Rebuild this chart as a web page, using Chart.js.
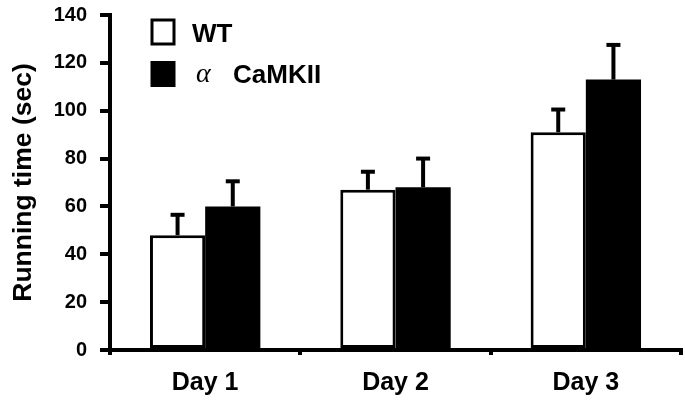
<!DOCTYPE html>
<html>
<head>
<meta charset="utf-8">
<script src="https://cdn.jsdelivr.net/npm/chart.js@4.4.1/dist/chart.umd.min.js"></script>
<style>
  html, body { margin: 0; padding: 0; background: #fff; }
  #wrap { position: relative; width: 685px; height: 402px; }
</style>
</head>
<body>
<div id="wrap"><canvas id="c" width="685" height="402"></canvas></div>
<script>
const categories = ['Day 1', 'Day 2', 'Day 3'];
const wtMeans = [48, 67, 91];
const wtErrors = [8.5, 7.5, 9.5];
const camMeans = [60, 68, 113];
const camErrors = [10.5, 12, 14.5];
const yTicks = [0, 20, 40, 60, 80, 100, 120, 140];
const seriesNames = ['WT', 'CaMKII'];

Chart.defaults.font.family = "'Liberation Sans', Arial, sans-serif";
Chart.defaults.font.weight = 'bold';
Chart.defaults.color = '#000';

const errorBars = {
  id: 'errorBars',
  afterDatasetsDraw(chart) {
    const ctx = chart.ctx;
    const ys = chart.scales.y;
    chart.data.datasets.forEach((ds, i) => {
      const meta = chart.getDatasetMeta(i);
      meta.data.forEach((bar, j) => {
        const top = ys.getPixelForValue(ds.data[j] + ds.errors[j]);
        ctx.save();
        ctx.strokeStyle = '#000';
        ctx.lineWidth = 4;
        ctx.beginPath();
        ctx.moveTo(bar.x, bar.y);
        ctx.lineTo(bar.x, top);
        ctx.stroke();
        ctx.beginPath();
        ctx.moveTo(bar.x - 7, top);
        ctx.lineTo(bar.x + 7, top);
        ctx.stroke();
        ctx.restore();
      });
    });
  }
};

const customLegend = {
  id: 'customLegend',
  afterDraw(chart) {
    const ctx = chart.ctx;
    ctx.save();
    ctx.fillStyle = '#fff';
    ctx.fillRect(152, 20, 22, 24);
    ctx.strokeStyle = '#000';
    ctx.lineWidth = 3;
    ctx.strokeRect(152, 20, 22, 24);
    ctx.fillStyle = '#000';
    ctx.fillRect(150.5, 61, 25, 26);
    ctx.textBaseline = 'middle';
    ctx.textAlign = 'left';
    ctx.font = "bold 26px 'Liberation Sans', Arial, sans-serif";
    ctx.fillText(seriesNames[0], 192, 35);
    ctx.font = "italic 28px 'Liberation Serif', 'Times New Roman', serif";
    ctx.fillText('\u03B1', 196, 75);
    ctx.font = "bold 26px 'Liberation Sans', Arial, sans-serif";
    ctx.fillText(seriesNames[1], 233, 76);
    ctx.restore();
  }
};

new Chart(document.getElementById('c'), {
  type: 'bar',
  data: {
    labels: categories,
    datasets: [
      {
        label: seriesNames[0],
        data: wtMeans,
        errors: wtErrors,
        backgroundColor: '#fff',
        borderColor: '#000',
        borderWidth: 3,
        borderSkipped: false
      },
      {
        label: seriesNames[1],
        data: camMeans,
        errors: camErrors,
        backgroundColor: '#000',
        borderColor: '#000',
        borderWidth: 0
      }
    ]
  },
  options: {
    responsive: false,
    animation: false,
    devicePixelRatio: 1,
    datasets: { bar: { barPercentage: 1, categoryPercentage: 0.58 } },
    layout: { padding: { top: 15, right: 4, left: 0, bottom: 0 } },
    plugins: {
      legend: { display: false },
      tooltip: { enabled: false }
    },
    scales: {
      x: {
        afterFit(s) { s.height = 52; s.paddingLeft = 0; s.paddingRight = 0; },
        grid: {
          display: true,
          offset: true,
          drawOnChartArea: false,
          drawTicks: true,
          tickLength: 5,
          lineWidth: 4,
          color: '#000'
        },
        border: { display: true, width: 4, color: '#000' },
        ticks: {
          padding: 13,
          font: { size: 25, weight: 'bold' },
          color: '#000'
        }
      },
      y: {
        min: 0,
        max: 140,
        afterFit(s) { s.width = 110; s.paddingTop = 0; s.paddingBottom = 0; },
        afterBuildTicks(s) { s.ticks = yTicks.map(v => ({ value: v })); },
        grid: {
          display: true,
          drawOnChartArea: false,
          drawTicks: true,
          tickLength: 10,
          lineWidth: 4,
          color: '#000'
        },
        border: { display: true, width: 4, color: '#000' },
        ticks: {
          padding: 13,
          font: { size: 20, weight: 'bold' },
          color: '#000'
        },
        title: {
          display: true,
          text: 'Running time (sec)',
          font: { size: 26.5, weight: 'bold' },
          color: '#000',
          padding: { top: 8, bottom: 0 }
        }
      }
    }
  },
  plugins: [errorBars, customLegend]
});
</script>
</body>
</html>
